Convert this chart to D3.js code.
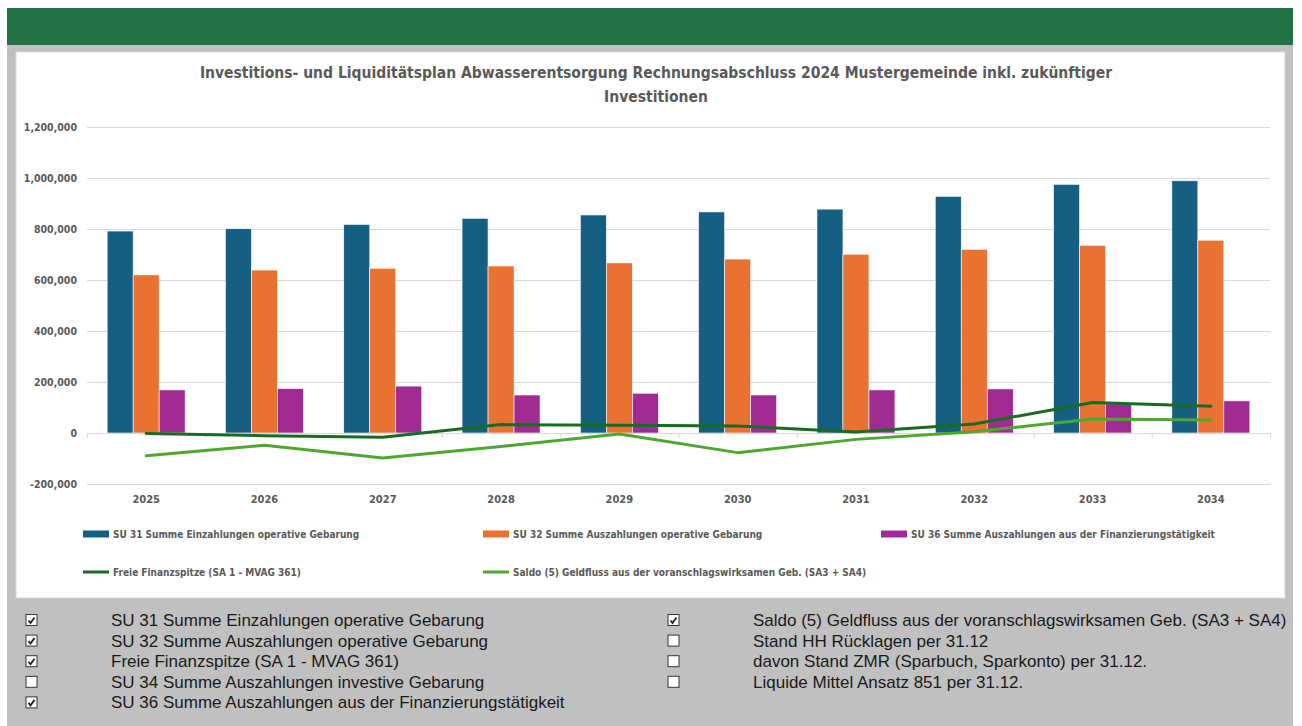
<!DOCTYPE html>
<html>
<head>
<meta charset="utf-8">
<script src="https://cdn.jsdelivr.net/npm/d3@7"></script>
<style>
  body { margin: 0; background: #fff; }
  svg { display: block; }
</style>
</head>
<body>
<div id="chart"></div>
<script>
// chart data
const years = ["2025", "2026", "2027", "2028", "2029", "2030", "2031", "2032", "2033", "2034"];
const su31 = [792000, 801000, 818000, 842000, 855000, 867000, 878000, 928000, 975000, 989000];
const su32 = [620000, 639000, 646000, 655000, 667000, 682000, 701000, 720000, 736000, 756000];
const su36 = [169000, 174000, 184000, 149000, 156000, 149000, 169000, 173000, 117000, 126000];
const freie = [-1500, -10500, -17000, 33000, 30000, 27500, 4000, 35000, 120000, 105000];
const saldo = [-89000, -48000, -98000, -53000, -4000, -77000, -25000, 5000, 55000, 51000];
const yTicks = [-200000, 0, 200000, 400000, 600000, 800000, 1000000, 1200000];

const barSeries = [
    { name: "SU 31 Summe Einzahlungen operative Gebarung", values: su31, color: "#156082" },
    { name: "SU 32 Summe Auszahlungen operative Gebarung", values: su32, color: "#E97132" },
    { name: "SU 36 Summe Auszahlungen aus der Finanzierungstätigkeit", values: su36, color: "#A02B93" }
];
const lineSeries = [
    { name: "Freie Finanzspitze (SA 1 - MVAG 361)", values: freie, color: "#196B24" },
    { name: "Saldo (5) Geldfluss aus der voranschlagswirksamen Geb. (SA3 + SA4)", values: saldo, color: "#4EA72E" }
];
const checkLeft = [
    ["SU 31 Summe Einzahlungen operative Gebarung", true],
    ["SU 32 Summe Auszahlungen operative Gebarung", true],
    ["Freie Finanzspitze (SA 1 - MVAG 361)", true],
    ["SU 34 Summe Auszahlungen investive Gebarung", false],
    ["SU 36 Summe Auszahlungen aus der Finanzierungstätigkeit", true]
];
const checkRight = [
    ["Saldo (5) Geldfluss aus der voranschlagswirksamen Geb. (SA3 + SA4)", true],
    ["Stand HH Rücklagen per 31.12", false],
    ["davon Stand ZMR (Sparbuch, Sparkonto) per 31.12.", false],
    ["Liquide Mittel Ansatz 851 per 31.12.", false]
];

const W = 1302, H = 726;
const condensed = "'Liberation Sans Narrow', 'DejaVu Sans Condensed', 'Roboto', sans-serif";
const textGray = "#595959";

const svg = d3.select("#chart").append("svg")
    .attr("width", W)
    .attr("height", H);

svg.append("defs").append("clipPath").attr("id", "pageclip")
    .append("rect").attr("x", 0).attr("y", 0).attr("width", 1293).attr("height", H);

// Excel-ish frame
svg.append("rect").attr("x", 7).attr("y", 45).attr("width", 1286).attr("height", H - 45).attr("fill", "#c0c0c0");
svg.append("rect").attr("x", 7).attr("y", 8).attr("width", 1286).attr("height", 37).attr("fill", "#217346");
svg.append("rect").attr("x", 16).attr("y", 52).attr("width", 1269).attr("height", 546)
    .attr("fill", "#fff").attr("stroke", "#d9d9d9");

// title
const title = svg.append("text")
    .attr("text-anchor", "middle")
    .attr("font-family", condensed)
    .attr("font-weight", "bold")
    .attr("font-size", 15.5)
    .attr("fill", textGray);
title.append("tspan").attr("x", 656).attr("y", 78)
    .text("Investitions- und Liquiditätsplan Abwasserentsorgung Rechnungsabschluss 2024 Mustergemeinde inkl. zukünftiger");
title.append("tspan").attr("x", 656).attr("y", 102).text("Investitionen");

// scales
const x0 = d3.scaleBand().domain(years).range([87, 1270]).paddingInner(0).paddingOuter(0);
const x1 = d3.scaleBand().domain(d3.range(barSeries.length)).range([0, x0.bandwidth()])
    .paddingInner(0).paddingOuter(0.775);
const y = d3.scaleLinear().domain([-200000, 1200000]).range([484, 127]);
const fmt = d3.formatLocale({ decimal: ".", thousands: ",", grouping: [3], currency: ["", ""], minus: "-" }).format(",");

// gridlines + y labels
const yAxis = svg.append("g")
    .attr("transform", "translate(87,0)")
    .call(d3.axisLeft(y).tickValues(yTicks).tickFormat(fmt).tickSize(-(1270 - 87)).tickPadding(10));
yAxis.select(".domain").remove();
yAxis.selectAll(".tick line").attr("stroke", "#d9d9d9");
yAxis.selectAll(".tick text")
    .attr("fill", textGray)
    .attr("font-family", condensed)
    .attr("font-weight", "bold")
    .attr("font-size", 10.5);

// bars
const groups = svg.append("g").selectAll("g")
    .data(barSeries)
    .join("g")
    .attr("fill", d => d.color);
groups.selectAll("rect")
    .data((s, i) => s.values.map((v, j) => ({ v, year: years[j], i })))
    .join("rect")
    .attr("x", d => x0(d.year) + x1(d.i))
    .attr("width", x1.bandwidth())
    .attr("y", d => y(Math.max(0, d.v)))
    .attr("height", d => Math.abs(y(d.v) - y(0)))
    .attr("stroke", "#fff")
    .attr("stroke-width", 0.6);

// zero axis with category ticks
const bScale = d3.scaleLinear().domain([0, years.length]).range([87, 1270]);
const zAxis = svg.append("g")
    .attr("transform", `translate(0,${y(0)})`)
    .call(d3.axisBottom(bScale).tickValues(d3.range(years.length + 1)).tickFormat("").tickSize(5).tickSizeOuter(0));
zAxis.select(".domain").attr("stroke", "#d9d9d9");
zAxis.selectAll(".tick line").attr("stroke", "#d9d9d9");

// year labels
const xAxis = svg.append("g")
    .attr("transform", `translate(0,${y(-200000)})`)
    .call(d3.axisBottom(x0).tickSize(0).tickPadding(11));
xAxis.select(".domain").remove();
xAxis.selectAll(".tick text")
    .attr("fill", textGray)
    .attr("font-family", condensed)
    .attr("font-weight", "bold")
    .attr("font-size", 11);

// lines
const line = d3.line()
    .x((d, i) => x0(years[i]) + x0.bandwidth() / 2)
    .y(d => y(d));
svg.append("g").selectAll("path")
    .data(lineSeries.slice().reverse())
    .join("path")
    .attr("d", d => line(d.values))
    .attr("fill", "none")
    .attr("stroke", d => d.color)
    .attr("stroke-width", 3)
    .attr("stroke-linejoin", "round")
    .attr("stroke-linecap", "round");

// legend
const legendCols = [83, 483, 881];
const legendItems = barSeries.map((s, i) => ({ ...s, type: "bar", x: legendCols[i], y: 534 }))
    .concat(lineSeries.map((s, i) => ({ ...s, type: "line", x: legendCols[i], y: 572 })));
const leg = svg.append("g").selectAll("g")
    .data(legendItems)
    .join("g")
    .attr("transform", d => `translate(${d.x},${d.y})`);
leg.filter(d => d.type === "bar").append("rect")
    .attr("x", 0).attr("y", -3.5).attr("width", 26).attr("height", 7)
    .attr("fill", d => d.color);
leg.filter(d => d.type === "line").append("line")
    .attr("x1", 0).attr("x2", 26).attr("y1", 0).attr("y2", 0)
    .attr("stroke", d => d.color).attr("stroke-width", 3);
leg.append("text")
    .attr("x", 30).attr("y", 0).attr("dy", "0.35em")
    .attr("fill", textGray)
    .attr("font-family", condensed)
    .attr("font-weight", "bold")
    .attr("font-size", 10)
    .text(d => d.name);

// checkbox panel
function drawChecks(items, bx, tx) {
    const g = svg.append("g").attr("clip-path", "url(#pageclip)")
        .selectAll("g")
        .data(items)
        .join("g")
        .attr("transform", (d, i) => `translate(0,${620 + i * 20.6})`);
    g.append("rect")
        .attr("x", bx).attr("y", -5.5).attr("width", 11).attr("height", 11)
        .attr("fill", "#fff").attr("stroke", "#333").attr("stroke-width", 1);
    g.filter(d => d[1]).append("path")
        .attr("d", `M${bx + 2.5},0.5 L${bx + 4.5},3 L${bx + 8.5},-2.5`)
        .attr("fill", "none").attr("stroke", "#222").attr("stroke-width", 1.8);
    g.append("text")
        .attr("x", tx).attr("y", 0).attr("dy", "0.35em")
        .attr("font-family", "'Liberation Sans', Arial, sans-serif")
        .attr("font-size", 17)
        .attr("fill", "#1a1a1a")
        .text(d => d[0]);
}
drawChecks(checkLeft, 26, 111);
drawChecks(checkRight, 668, 753);
</script>
</body>
</html>
